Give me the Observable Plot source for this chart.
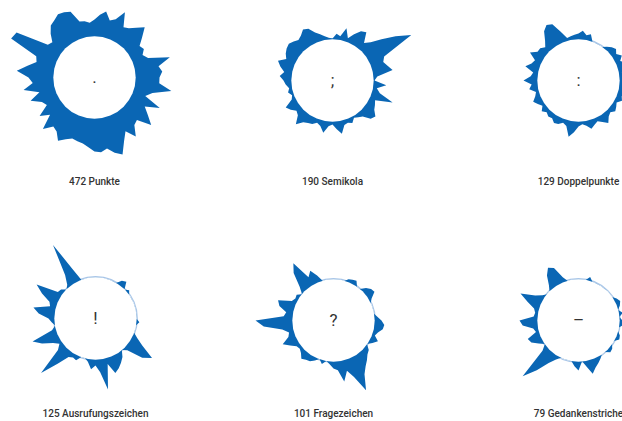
<!DOCTYPE html>
<html><head><meta charset="utf-8">
<script src="https://cdn.jsdelivr.net/npm/d3@7"></script>
<script src="https://cdn.jsdelivr.net/npm/@observablehq/plot@0.6"></script>
<style>
body{margin:0;background:#fff;}
#wrap{position:relative;width:622px;height:421px;overflow:hidden;background:#fff;}
#wrap > div{position:absolute;width:240px;height:240px;}
#wrap svg{max-width:none !important;}
</style></head><body><div id="wrap"></div>
<script>
// Data: counts, names, central symbols, and radial spike lengths (72 bins, clockwise from top)
const counts = [472, 190, 129, 125, 101, 79];
const names = ["Punkte", "Semikola", "Doppelpunkte", "Ausrufungszeichen", "Fragezeichen", "Gedankenstriche"];
const symbols = [".", ";", ":", "!", "?", "–"];

const punkte = [17,22,26,18,21,31,17,19,24,30,21,14,16,12,16,37,24,27,24,24,37,19,13,31,17,24,33,19,21,31,21,29,41,37,31,34,33,29,26,25,24,27,32,25,23,32,17,26,14,17,27,16,31,21,25,37,27,19,21,51,49,16,14,21,27,29,32,31,29,17,16,14];
const semikola = [1,6,4,13,4,10,16,18,8,13,23,36,50,16,13,16,20,4,1,13,4,8,23,6,8,10,15,13,6,4,2,6,4,5,13,8,3,5,12,6,4,7,8,10,16,8,6,10,13,4,2,5,3,6,8,12,8,13,17,10,13,15,16,14,12,14,18,16,10,7,4,2];
const doppelpunkte = [6,9,5,7,0,0,0,0,3,6,8,5,9,5,11,7,3,9,5,7,3,9,5,7,3,5,7,4,6,11,7,4,6,9,5,3,5,11,16,6,4,7,8,5,6,4,7,3,6,9,5,3,9,6,14,7,5,14,9,7,15,9,9,6,11,19,23,21,11,3,4,5];
const ausrufungszeichen = [0,0,0,0,0,0,0,5,7,0,3,0,0,0,0,0,0,0,0,3,0,0,0,5,13,28,20,4,0,6,10,14,17,6,31,13,6,10,3,0,0,5,4,6,18,36,8,3,8,18,26,4,0,3,6,16,22,6,8,18,27,5,4,0,3,12,44,14,0,0,0,0];
const fragezeichen = [0,0,0,0,3,4,5,0,0,5,8,9,3,0,0,0,0,3,7,10,9,5,3,8,4,0,5,7,11,15,21,36,19,11,21,9,7,3,0,4,0,3,6,7,9,5,3,4,9,15,7,5,11,29,37,9,7,15,18,5,3,4,0,7,21,29,9,14,7,0,0,0];
const gedankenstriche = [0,0,0,4,0,0,0,0,0,0,0,0,3,5,3,0,4,0,3,5,0,0,3,4,0,0,3,4,0,0,3,6,9,14,6,0,9,5,0,0,0,0,4,11,24,38,6,0,5,11,13,3,5,15,18,4,3,5,13,23,9,3,0,0,5,14,20,17,5,0,0,0];
const series = [punkte, semikola, doppelpunkte, ausrufungszeichen, fragezeichen, gedankenstriche];

// Layout (not data)
const centers = [[94,77],[332,80],[578,80],[95,318],[333,320],[578,320]];
const labelY = [181, 181, 181, 413, 413, 413];
const R0 = 41, W = 240, H = 240, TOP = 110;
const BLUE = "#0a66b4";

const wrap = document.getElementById("wrap");
series.forEach((vals, i) => {
  const data = vals.map((v, j) => ({a: j / vals.length * 2 * Math.PI, v}));
  const [cx, cy] = centers[i];
  const svg = Plot.plot({
    width: W, height: H, margin: 0,
    x: {domain: [-W / 2, W / 2], axis: null},
    y: {domain: [-(H - TOP), TOP], axis: null},
    style: {background: "transparent", overflow: "visible", fontFamily: "Roboto", maxWidth: "none"},
    marks: [
      // light ring, visible only where no spike covers it
      Plot.dot([{x: 0, y: 0}], {x: "x", y: "y", r: R0 + 0.8, fill: "none", stroke: "#a9c6e8", strokeWidth: 1.2}),
      Plot.line(data, {
        x: d => (R0 + d.v) * Math.sin(d.a),
        y: d => (R0 + d.v) * Math.cos(d.a),
        curve: "linear-closed", fill: BLUE, stroke: "none"
      }),
      Plot.dot([{x: 0, y: 0}], {x: "x", y: "y", r: R0 + 0.2, fill: "white", stroke: "none"}),
      Plot.text([{x: 0, y: 0, t: symbols[i]}], {x: "x", y: "y", text: "t", fontSize: 17, fill: "#333"}),
      Plot.text([{x: 0, y: cy - labelY[i], t: `${counts[i]} ${names[i]}`}], {x: "x", y: "y", text: "t", fontSize: 10, fontWeight: 500, fill: "#333"})
    ]
  });
  const div = document.createElement("div");
  div.style.left = (cx - W / 2) + "px";
  div.style.top = (cy - TOP) + "px";
  div.appendChild(svg);
  wrap.appendChild(div);
});
</script></body></html>
